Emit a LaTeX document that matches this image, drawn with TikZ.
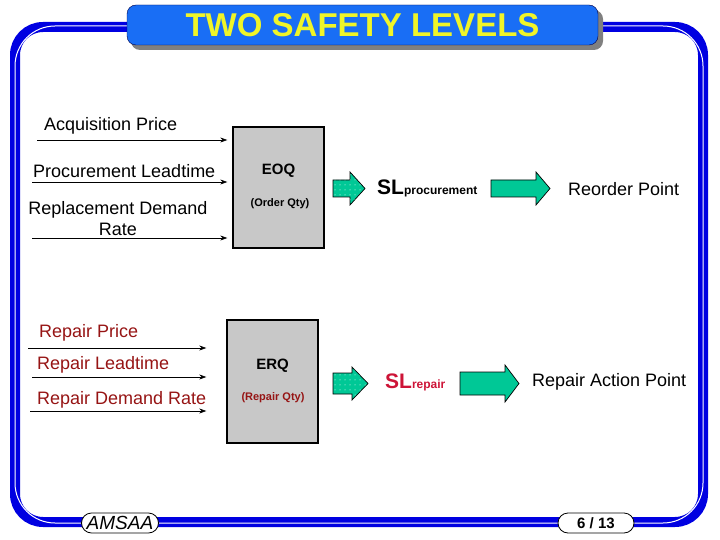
\documentclass[tikz,border=0pt]{standalone}
\usepackage{fontspec}
\setmainfont{Liberation Sans}
\usetikzlibrary{arrows.meta,patterns.meta}
\definecolor{framebl}{RGB}{0,0,225}
\definecolor{titlebl}{RGB}{25,110,245}
\definecolor{titleye}{RGB}{240,245,40}
\definecolor{boxgray}{RGB}{200,200,200}
\definecolor{arrgreen}{RGB}{0,200,150}
\definecolor{lblred}{RGB}{150,20,20}
\definecolor{slred}{RGB}{205,20,55}
\newcommand{\fsz}[1]{\fontsize{#1}{#1}\selectfont}

\begin{document}
\begin{tikzpicture}[x=1pt, y=-1pt, >={Stealth[length=7pt,width=5pt]},
    inlabel/.style={font=\fsz{18}, anchor=west, inner sep=0pt},
    qtybox/.style={draw=black, line width=1.4pt, fill=boxgray},
    greenarr/.style={fill=arrgreen, draw=black, line width=0.7pt},
    dottedarr/.style={greenarr, postaction={pattern={Dots[radius=0.5pt,distance=5pt]}, pattern color=white}},
    pill/.style={draw=black, line width=0.8pt, fill=white, rounded corners=10pt,
        minimum height=20pt, inner sep=0pt}]
    \useasboundingbox (0,0) rectangle (720,540);
    % frame
    \draw[framebl, line width=10pt, rounded corners=28pt] (15,27) rectangle (703,522);
    \draw[white, line width=1pt, rounded corners=40pt] (15,26) rectangle (703,523);
    % title
    \fill[black!50, rounded corners=9pt] (131,10) rectangle (603,50);
    \node[draw=black!70!blue, fill=titlebl, rounded corners=9pt, minimum width=471pt,
        minimum height=40pt, font=\bfseries\fsz{33}, text=titleye] (title) at (362.5,25) {TWO SAFETY LEVELS};
    % boxes
    \node[qtybox, minimum width=91pt, minimum height=121pt] (eoq) at (278.5,187.5) {};
    \node[font=\bfseries\fsz{15}] (eoqlbl) at (278.5,171) {EOQ};
    \node[font=\bfseries\fsz{11}] (eoqsub) at (280,204) {(Order Qty)};
    \node[qtybox, minimum width=91pt, minimum height=123pt] (erq) at (272.5,381.5) {};
    \node[font=\bfseries\fsz{15}] (erqlbl) at (272.5,366) {ERQ};
    \node[font=\bfseries\fsz{11}, text=lblred] (erqsub) at (273,398) {(Repair Qty)};
    % inputs
    \foreach \nm/\xs/\ys in {acq/37/140, proc/32/182, repl/32/238} {
        \coordinate (\nm) at (\xs,\ys);
        \draw[->, line width=0.7pt, shorten >=5pt] (\nm) -- (\nm -| eoq.west);
    }
    \foreach \nm/\xs/\ys in {rprice/28/348, rlead/32/377, rdem/30/411} {
        \coordinate (\nm) at (\xs,\ys);
        \draw[->, line width=0.7pt, shorten >=20pt] (\nm) -- (\nm -| erq.west);
    }
    \node[inlabel] (acqlbl) at (44,126) {Acquisition Price};
    \node[inlabel] (proclbl) at (33,171) {Procurement Leadtime};
    \node[font=\fontsize{18}{21}\selectfont, align=center, inner sep=0pt] (repllbl) at (118,218.5) {Replacement Demand\\Rate};
    \node[inlabel, text=lblred] (rpricelbl) at (39,333) {Repair Price};
    \node[inlabel, text=lblred] (rleadlbl) at (37,365) {Repair Leadtime};
    \node[inlabel, text=lblred] (rdemlbl) at (37,400) {Repair Demand Rate};
    % green arrows
    \draw[dottedarr] (333,180) -- (350,180) -- (350,172) -- (365,188.5) -- (350,205) -- (350,197) -- (333,197) -- cycle;
    \draw[greenarr] (491,180) -- (536,180) -- (536,172) -- (550,188.5) -- (536,205) -- (536,197) -- (491,197) -- cycle;
    \draw[dottedarr] (333,373) -- (352,373) -- (352,367) -- (368,383.5) -- (352,400) -- (352,394) -- (333,394) -- cycle;
    \draw[greenarr] (460,372) -- (505,372) -- (505,365) -- (519,383.5) -- (505,402) -- (505,395) -- (460,395) -- cycle;
    % safety levels
    \node[anchor=west, inner sep=0pt] (slproc) at (377,188) {{\bfseries\fsz{21}SL}{\bfseries\fsz{12}procurement}};
    \node[anchor=west, inner sep=0pt, text=slred] (slrep) at (385,382) {{\bfseries\fsz{21}SL}{\bfseries\fsz{12}repair}};
    \node[inlabel] (reorder) at (568,189) {Reorder Point};
    \node[inlabel] (action) at (532,382) {Repair Action Point};
    % footer
    \node[pill, minimum width=77pt, font=\itshape\fsz{19}] (amsaa) at (120,523) {AMSAA};
    \node[pill, minimum width=76pt, font=\bfseries\fsz{15}] (page) at (596,523) {6 / 13};
\end{tikzpicture}
\end{document}
